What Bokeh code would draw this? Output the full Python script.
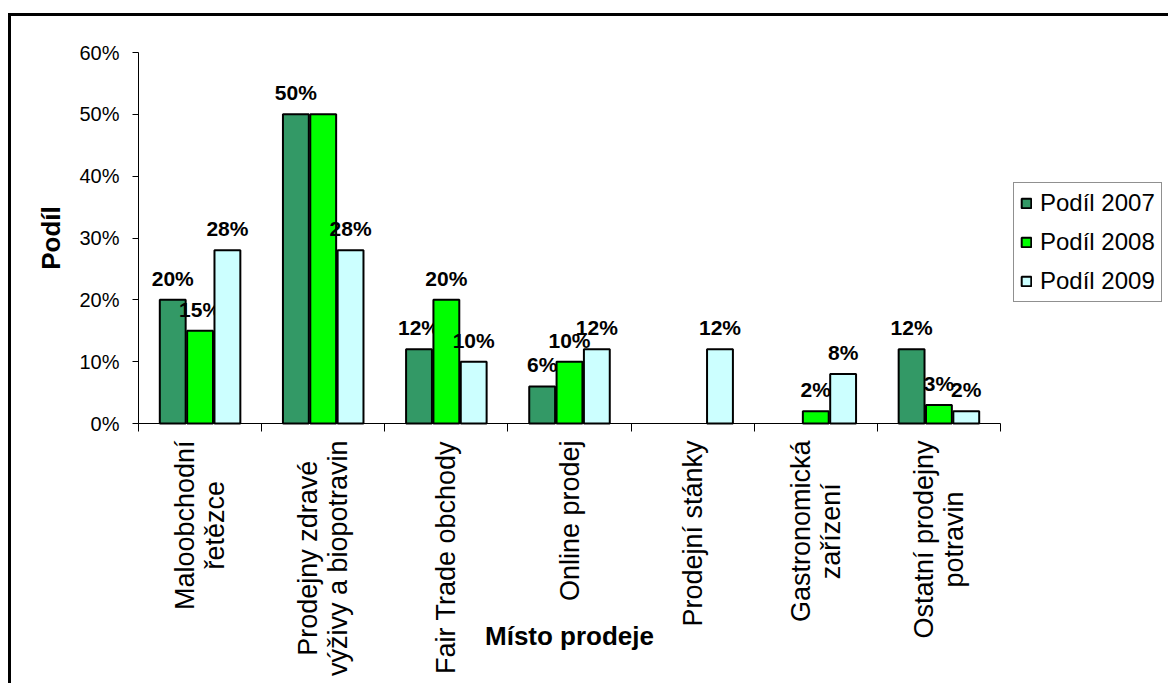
from math import pi
from bokeh.plotting import figure
from bokeh.models import (Range1d, LinearAxis, FixedTicker, Legend, LegendItem, Label,
                          PrintfTickFormatter, ColumnDataSource, CustomJSTickFormatter)
from bokeh.transform import dodge
from bokeh.core.properties import value
from bokeh.embed import file_html
from bokeh.resources import INLINE

# ---------------- data ----------------
categories = [
    "Maloobchodní\nřetězce",
    "Prodejny zdravé\nvýživy a biopotravin",
    "Fair Trade obchody",
    "Online prodej",
    "Prodejní stánky",
    "Gastronomická\nzařízení",
    "Ostatní prodejny\npotravin",
]
series_names = ["Podíl 2007", "Podíl 2008", "Podíl 2009"]
podil_2007 = [20, 50, 12, 6, 0, 0, 12]
podil_2008 = [15, 50, 20, 10, 0, 2, 3]
podil_2009 = [28, 28, 10, 12, 12, 8, 2]
y_ticks = [0, 10, 20, 30, 40, 50, 60]
x_title = "Místo prodeje"
y_title = "Podíl"

# ---------------- style / layout ----------------
colors = ["#339966", "#00FF00", "#CCFFFF"]
offsets = [-0.222, 0.0, 0.222]
FONT = "Liberation Sans"
W, H = 1160, 670
PX_X = 862 / 7          # px per category
PX_Y = 371 / 60         # px per percent
LEFT, TOP, BOTTOM = 127, 36, 407   # plot-area edges inside the canvas
n = len(categories)

x_range = Range1d(-0.5 - LEFT / PX_X, -0.5 + (W - LEFT) / PX_X)
y_range = Range1d(-(H - BOTTOM) / PX_Y, 60 + TOP / PX_Y)

p = figure(x_range=x_range, y_range=y_range, width=W, height=H,
           output_backend="svg", toolbar_location=None,
           x_axis_location=None, y_axis_location=None,
           min_border_left=0, min_border_right=0, min_border_top=0, min_border_bottom=0)
p.margin = (13, 0, 0, 8)
p.styles = {"border-top": "3px solid black", "border-left": "3px solid black"}
p.outline_line_color = None
p.background_fill_color = "white"
p.border_fill_color = "white"
p.grid.grid_line_color = None

# x axis: line and ticks at category boundaries
tick_axis = LinearAxis(fixed_location=0, bounds=(-0.5, n - 0.5),
                       ticker=FixedTicker(ticks=[i - 0.5 for i in range(n + 1)]),
                       formatter=CustomJSTickFormatter(code="return ''"),
                       major_tick_out=8, major_tick_in=0, minor_tick_line_color=None,
                       major_label_standoff=0, axis_line_color="black", axis_line_width=1,
                       major_tick_line_color="black")
p.add_layout(tick_axis, "below")

# y axis
yax = LinearAxis(fixed_location=-0.5, bounds=(0, 60), ticker=FixedTicker(ticks=y_ticks),
                 formatter=PrintfTickFormatter(format="%d%%"),
                 major_tick_out=6, major_tick_in=0, minor_tick_line_color=None,
                 axis_line_color="black", major_tick_line_color="black",
                 major_label_text_font=FONT, major_label_text_font_size="20px",
                 major_label_text_color="black", major_label_standoff=13,
                 axis_label=y_title, axis_label_text_font=FONT,
                 axis_label_text_font_size="26px", axis_label_text_font_style="bold",
                 axis_label_text_color="black", axis_label_standoff=10)
p.add_layout(yax, "left")

# bars + data labels
items = []
all_vals = [podil_2007, podil_2008, podil_2009]
pos = list(range(n))
for s, (name, vals, col, off) in enumerate(zip(series_names, all_vals, colors, offsets)):
    keep = [i for i, v in enumerate(vals) if v > 0]
    src = ColumnDataSource(dict(pos=[pos[i] for i in keep], val=[vals[i] for i in keep]))
    r = p.vbar(x=dodge("pos", off), top="val", width=0.21, source=src,
               fill_color=col, line_color="black", line_width=2)
    # a label that would sit exactly on the previous series' label is hidden
    lk = [i for i in keep if not (s > 0 and all_vals[s - 1][i] == vals[i])]
    lsrc = ColumnDataSource(dict(pos=[pos[i] for i in lk], val=[vals[i] for i in lk],
                                 lbl=[f"{vals[i]}%" for i in lk]))
    p.text(x=dodge("pos", off), y="val", text="lbl", source=lsrc,
           text_align="center", text_baseline="bottom", y_offset=-10,
           text_font=value(FONT), text_font_style="bold", text_font_size="21px",
           text_color="black")
    items.append(LegendItem(label=name, renderers=[r]))

# category labels (vertical, lines centred on each other, block starting below the axis)
ARIAL = {" ": 278, "a": 556, "b": 556, "c": 500, "d": 556, "e": 556, "f": 278, "g": 556,
         "h": 556, "i": 222, "j": 222, "k": 500, "l": 222, "m": 833, "n": 556, "o": 556,
         "p": 556, "r": 333, "s": 500, "t": 278, "u": 556, "v": 500, "y": 500, "z": 500,
         "á": 556, "é": 556, "ě": 556, "í": 278, "ý": 500, "ž": 500, "ř": 333,
         "M": 833, "P": 667, "F": 611, "T": 611, "O": 778, "G": 778}
LABEL_PX = 27
LINE_PX = 30


def text_px(t):
    return sum(ARIAL.get(ch, 556) for ch in t) / 1000 * LABEL_PX


lab = dict(x=[], y=[], t=[], dx=[])
for i, cat in enumerate(categories):
    lines = cat.split("\n")
    longest = max(text_px(t) for t in lines)
    yc = -(17 + longest / 2) / PX_Y
    for j, t in enumerate(lines):
        lab["x"].append(pos[i])
        lab["y"].append(yc)
        lab["t"].append(t)
        lab["dx"].append((j - (len(lines) - 1) / 2) * LINE_PX)
p.text(x="x", y="y", text="t", x_offset="dx", angle=pi / 2, source=ColumnDataSource(lab),
       text_align="center", text_baseline="middle", text_font=value(FONT),
       text_font_size=f"{LABEL_PX}px", text_color="black")

# x axis title
p.add_layout(Label(x=(n - 1) / 2, y=-34.3, text=x_title,
                   text_align="center", text_baseline="middle",
                   text_font=FONT, text_font_style="bold",
                   text_font_size="26px", text_color="black"))

legend = Legend(items=items, location=(1002, 384), label_text_font=FONT,
                label_text_font_size="24px", label_text_color="black",
                glyph_width=12, glyph_height=12,
                label_standoff=8, padding=6, spacing=11, margin=0,
                border_line_color="#222222", border_line_width=1,
                background_fill_color="white", background_fill_alpha=1)
p.add_layout(legend, "center")

open("out.html", "w").write(file_html(p, INLINE))
